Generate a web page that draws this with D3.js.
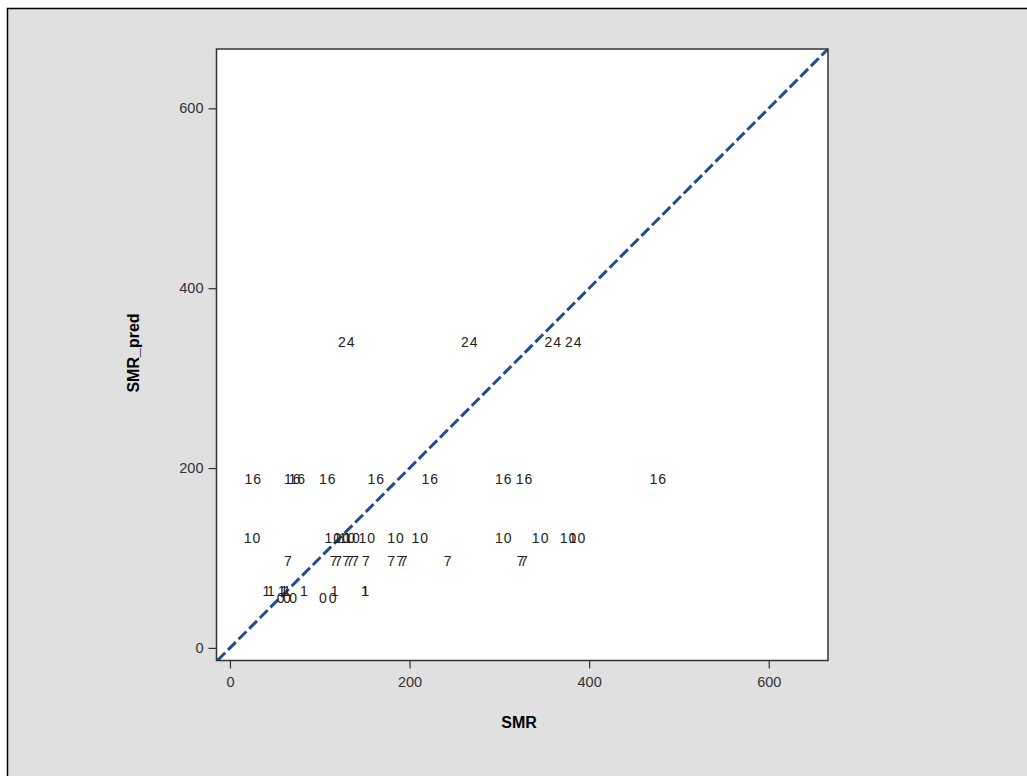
<!DOCTYPE html>
<html>
<head>
<meta charset="utf-8">
<script src="https://cdn.jsdelivr.net/npm/d3@7"></script>
<style>
  body { margin: 0; background: #ffffff; }
  svg text { font-family: "Liberation Sans", Arial, sans-serif; }
</style>
</head>
<body>
<script>
'use strict';

// point labels (group id) and their positions
const smrValues = [
  130, 267, 360, 383,
  26, 70, 75, 109, 163, 223, 305, 328, 477,
  25, 115, 125, 131, 136, 153, 185, 212, 305, 346, 377, 387,
  65, 116, 121, 130, 134, 140, 152, 180, 190, 194, 243, 324, 328,
  41, 46, 58, 61, 64, 83, 117, 151, 151,
  57, 64, 71, 104, 115
];
const smrPredValues = [
  340, 340, 340, 340,
  188, 188, 188, 188, 188, 188, 188, 188, 188,
  122, 122, 122, 122, 122, 122, 122, 122, 122, 122, 122, 122,
  97, 97, 97, 97, 97, 97, 97, 97, 97, 97, 97, 97, 97,
  63, 63, 63, 63, 63, 63, 63, 63, 63,
  56, 56, 56, 56, 56
];
const pointLabels = [
  '24', '24', '24', '24',
  '16', '16', '16', '16', '16', '16', '16', '16', '16',
  '10', '10', '10', '10', '10', '10', '10', '10', '10', '10', '10', '10',
  '7', '7', '7', '7', '7', '7', '7', '7', '7', '7', '7', '7', '7',
  '1', '1', '1', '1', '1', '1', '1', '1', '1',
  '0', '0', '0', '0', '0'
];
const xTicks = [0, 200, 400, 600];
const yTicks = [0, 200, 400, 600];
const xDomain = [-15, 666];
const yDomain = [-14, 666];

(function() {

  let svgContainer = "";

  window.onload = function() {
    svgContainer = d3.select('body')
      .append('svg')
      .attr('width', 1027)
      .attr('height', 776);

    // gray outer panel
    svgContainer.append('rect')
      .attr('x', 7.5)
      .attr('y', 8.5)
      .attr('width', 1100)
      .attr('height', 900)
      .attr('fill', '#e0e0e0')
      .attr('stroke', '#000')
      .attr('stroke-width', 1.5);

    let map = drawAxes();
    plotData(map);
    makeLabels();
  }

  // plot area, axes and ticks
  function drawAxes() {
    let xScale = d3.scaleLinear().domain(xDomain).range([216.5, 828]);
    let yScale = d3.scaleLinear().domain(yDomain).range([660.5, 49]);

    svgContainer.append('rect')
      .attr('x', 216.5)
      .attr('y', 49)
      .attr('width', 828 - 216.5)
      .attr('height', 660.5 - 49)
      .attr('fill', '#ffffff');

    svgContainer.append('clipPath')
      .attr('id', 'plotClip')
      .append('rect')
      .attr('x', 216.5)
      .attr('y', 49)
      .attr('width', 828 - 216.5)
      .attr('height', 660.5 - 49);

    let xAxis = d3.axisBottom(xScale).tickValues(xTicks).tickSize(8).tickPadding(8).tickSizeOuter(0);
    let gx = svgContainer.append('g')
      .attr('transform', 'translate(0, 660.5)')
      .call(xAxis);

    let yAxis = d3.axisLeft(yScale).tickValues(yTicks).tickSize(8).tickPadding(5).tickSizeOuter(0);
    let gy = svgContainer.append('g')
      .attr('transform', 'translate(216.5, 0)')
      .call(yAxis);

    [gx, gy].forEach(g => {
      g.select('.domain').remove();
      g.selectAll('line').attr('stroke', '#333').attr('stroke-width', 1.2);
      g.selectAll('text')
        .attr('fill', '#333')
        .style('font-size', '14.5px')
        .style('font-family', '"Liberation Sans", Arial, sans-serif');
    });

    return { xScale: xScale, yScale: yScale };
  }

  function plotData(map) {
    let xScale = map.xScale;
    let yScale = map.yScale;

    // reference line y = x
    let line = d3.line()
      .x(d => xScale(d))
      .y(d => yScale(d));

    svgContainer.append('path')
      .datum([-14, 700])
      .attr('clip-path', 'url(#plotClip)')
      .attr('fill', 'none')
      .attr('stroke', '#1e4f8f')
      .attr('stroke-width', 3)
      .attr('stroke-dasharray', '11,4')
      .attr('d', line);

    svgContainer.selectAll('.lbl')
      .data(pointLabels)
      .enter()
      .append('text')
        .attr('class', 'lbl')
        .attr('x', (d, i) => xScale(smrValues[i]))
        .attr('y', (d, i) => yScale(smrPredValues[i]))
        .attr('text-anchor', 'middle')
        .attr('dominant-baseline', 'central')
        .attr('fill', '#222')
        .style('font-size', '14px')
        .style('letter-spacing', '1px')
        .text(d => d);

    // plot frame on top
    svgContainer.append('rect')
      .attr('x', 216.5)
      .attr('y', 49)
      .attr('width', 828 - 216.5)
      .attr('height', 660.5 - 49)
      .attr('fill', 'none')
      .attr('stroke', '#333')
      .attr('stroke-width', 1.5);
  }

  function makeLabels() {
    svgContainer.append('text')
      .attr('x', 519)
      .attr('y', 728)
      .attr('text-anchor', 'middle')
      .style('font-size', '16px')
      .style('font-weight', 'bold')
      .attr('fill', '#000')
      .text('SMR');

    svgContainer.append('text')
      .attr('transform', 'translate(139, 353)rotate(-90)')
      .attr('text-anchor', 'middle')
      .style('font-size', '16px')
      .style('font-weight', 'bold')
      .attr('fill', '#000')
      .text('SMR_pred');
  }

})();
</script>
</body>
</html>
